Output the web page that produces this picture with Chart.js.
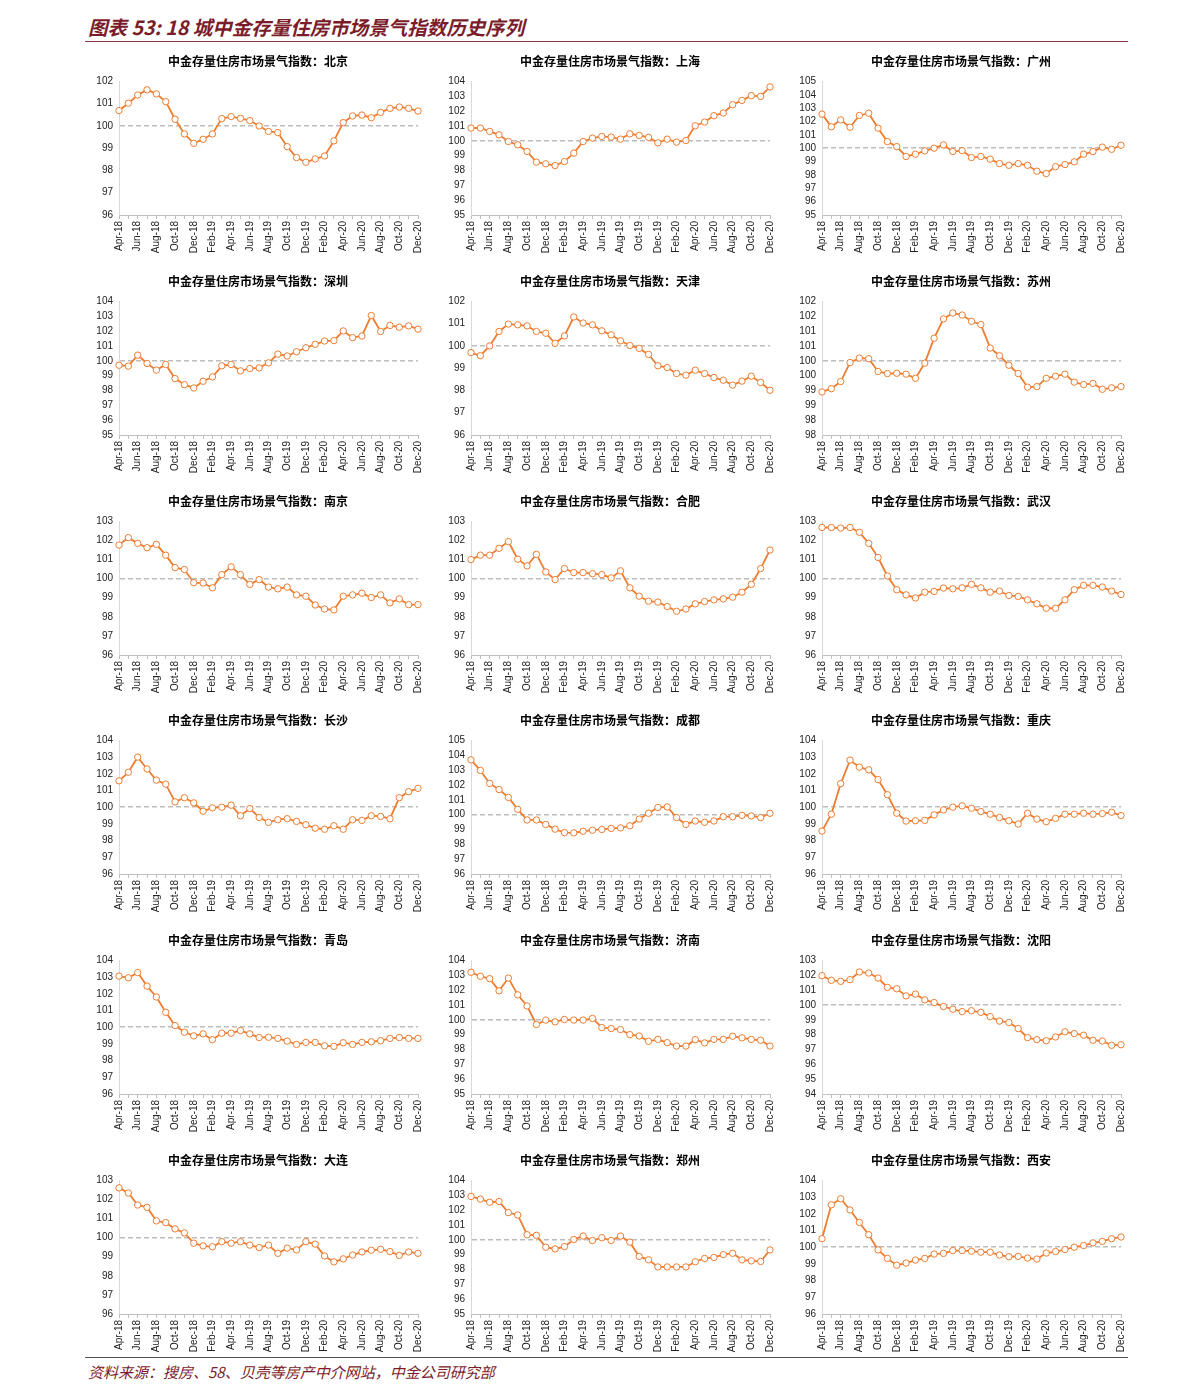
<!DOCTYPE html>
<html>
<head>
<meta charset="utf-8">
<script src="https://cdn.jsdelivr.net/npm/chart.js@4.4.1/dist/chart.umd.min.js"></script>
<style>
  html, body { margin: 0; padding: 0; background: #ffffff; }
  body { width: 1191px; height: 1399px; position: relative; overflow: hidden; }
  #title { position: absolute; left: 88px; top: 14px; font-family: "Noto Sans CJK SC", sans-serif; font-style: italic; font-weight: bold; font-size: 19.5px; color: #7b1c2a; white-space: nowrap; line-height: 26px; }
  #hline { position: absolute; left: 85px; top: 41px; width: 1043px; height: 0; border-top: 1.5px solid #8a3a44; }
  #fline { position: absolute; left: 85px; top: 1357px; width: 1043px; height: 0; border-top: 1px solid #555; }
  #source { position: absolute; left: 88px; top: 1361px; font-family: "Noto Sans CJK SC", sans-serif; font-style: italic; font-size: 15px; color: #7b1c2a; white-space: nowrap; line-height: 22px; }
  canvas.panel { position: absolute; }
</style>
</head>
<body>
<div id="title">图表 53: 18 城中金存量住房市场景气指数历史序列</div>
<div id="hline"></div>
<div id="fline"></div>
<div id="source">资料来源：搜房、58、贝壳等房产中介网站，中金公司研究部</div>
<script>
// ---------------- DATA ----------------
const months = ["Apr-18","May-18","Jun-18","Jul-18","Aug-18","Sep-18","Oct-18","Nov-18","Dec-18",
  "Jan-19","Feb-19","Mar-19","Apr-19","May-19","Jun-19","Jul-19","Aug-19","Sep-19","Oct-19","Nov-19","Dec-19",
  "Jan-20","Feb-20","Mar-20","Apr-20","May-20","Jun-20","Jul-20","Aug-20","Sep-20","Oct-20","Nov-20","Dec-20"];

const cities = ["北京","上海","广州","深圳","天津","苏州","南京","合肥","武汉","长沙","成都","重庆","青岛","济南","沈阳","大连","郑州","西安"];
const titlePrefix = "中金存量住房市场景气指数：";

const yMin  = [96, 95, 95, 95, 96, 97.5, 96, 96, 96, 96, 96, 96, 96, 95, 94, 96, 95, 96];
const yMax  = [102, 104, 105, 104, 102, 102, 103, 103, 103, 104, 105, 104, 104, 104, 103, 103, 104, 104];
const yStep = [1, 1, 1, 1, 1, 0.5, 1, 1, 1, 1, 1, 1, 1, 1, 1, 1, 1, 1];
const baseline = 100;

const beijing   = [100.69,101.02,101.39,101.62,101.44,101.09,100.30,99.64,99.22,99.40,99.64,100.33,100.42,100.34,100.24,100.00,99.75,99.70,99.07,98.58,98.37,98.52,98.65,99.33,100.15,100.45,100.49,100.37,100.61,100.79,100.85,100.79,100.67];
const shanghai  = [100.86,100.86,100.63,100.40,99.95,99.73,99.28,98.56,98.45,98.33,98.60,99.17,99.95,100.18,100.29,100.25,100.11,100.47,100.36,100.23,99.86,100.11,99.91,100.02,101.01,101.26,101.69,101.87,102.43,102.72,103.04,102.99,103.63];
const guangzhou = [102.55,101.60,102.12,101.57,102.45,102.62,101.50,100.50,100.12,99.38,99.55,99.80,100.00,100.25,99.75,99.82,99.30,99.38,99.18,98.85,98.72,98.85,98.72,98.28,98.10,98.62,98.78,98.98,99.55,99.75,100.08,99.92,100.22];
const shenzhen  = [99.70,99.64,100.38,99.82,99.37,99.75,98.80,98.39,98.17,98.62,98.91,99.66,99.75,99.32,99.48,99.52,99.86,100.45,100.32,100.61,100.88,101.11,101.33,101.36,102.01,101.56,101.67,103.05,101.97,102.38,102.26,102.35,102.13];
const tianjin   = [99.70,99.56,100.00,100.65,100.98,100.95,100.90,100.65,100.57,100.12,100.45,101.30,101.03,100.95,100.68,100.50,100.23,100.02,99.89,99.62,99.11,99.03,98.76,98.69,98.91,98.76,98.58,98.46,98.24,98.42,98.64,98.36,98.01];
const suzhou    = [98.95,99.06,99.30,99.94,100.09,100.07,99.64,99.57,99.58,99.55,99.41,99.92,100.76,101.41,101.61,101.54,101.33,101.22,100.43,100.17,99.85,99.57,99.11,99.13,99.41,99.48,99.55,99.28,99.20,99.24,99.04,99.09,99.13];
const nanjing   = [101.76,102.15,101.85,101.62,101.80,101.23,100.58,100.48,99.79,99.77,99.52,100.21,100.62,100.21,99.70,99.95,99.56,99.47,99.56,99.15,99.08,98.62,98.41,98.36,99.08,99.15,99.24,99.01,99.15,98.73,98.94,98.64,98.64];
const hefei     = [101.00,101.23,101.23,101.59,101.94,101.02,100.67,101.27,100.35,99.95,100.53,100.32,100.32,100.26,100.21,100.04,100.41,99.52,99.08,98.82,98.77,98.54,98.29,98.41,98.68,98.80,98.89,98.94,99.03,99.29,99.70,100.53,101.50];
const wuhan     = [102.68,102.68,102.65,102.68,102.43,101.85,101.11,100.14,99.42,99.15,98.99,99.29,99.33,99.51,99.47,99.52,99.70,99.52,99.29,99.35,99.12,99.07,98.89,98.68,98.45,98.45,98.89,99.42,99.65,99.65,99.56,99.35,99.17];
const changsha  = [101.58,102.09,103.00,102.29,101.62,101.38,100.32,100.57,100.26,99.76,99.96,100.00,100.12,99.49,99.92,99.39,99.09,99.25,99.31,99.15,98.95,98.74,98.68,98.89,98.68,99.25,99.21,99.49,99.45,99.31,100.57,100.93,101.13];
const chengdu   = [103.69,102.98,102.10,101.69,101.16,100.36,99.64,99.64,99.34,99.02,98.79,98.77,98.88,98.95,99.00,99.07,99.11,99.25,99.70,100.09,100.48,100.52,99.80,99.34,99.57,99.48,99.57,99.86,99.86,99.95,99.91,99.80,100.09];
const chongqing = [98.57,99.58,101.41,102.82,102.40,102.24,101.65,100.75,99.64,99.17,99.19,99.21,99.54,99.84,100.00,100.08,99.94,99.74,99.58,99.38,99.19,98.99,99.64,99.29,99.13,99.33,99.58,99.58,99.64,99.58,99.62,99.70,99.50];
const qingdao   = [103.06,102.96,103.27,102.46,101.81,100.89,100.10,99.70,99.48,99.60,99.25,99.64,99.64,99.80,99.60,99.38,99.40,99.33,99.17,98.97,99.09,99.09,98.89,98.85,99.07,98.97,99.09,99.13,99.19,99.33,99.38,99.33,99.33];
const jinan     = [103.20,102.93,102.77,101.95,102.81,101.68,100.93,99.68,99.98,99.86,100.02,99.98,99.98,100.09,99.48,99.41,99.34,99.00,98.91,98.55,98.68,98.46,98.23,98.23,98.66,98.44,98.68,98.68,98.89,98.78,98.68,98.62,98.23];
const shenyang  = [101.97,101.66,101.59,101.70,102.22,102.15,101.81,101.18,101.09,100.61,100.73,100.34,100.16,99.89,99.71,99.55,99.61,99.50,99.21,98.91,98.82,98.41,97.80,97.66,97.59,97.84,98.19,98.07,97.96,97.62,97.57,97.28,97.32];
const dalian    = [102.61,102.34,101.71,101.59,100.88,100.79,100.46,100.25,99.71,99.57,99.52,99.79,99.71,99.79,99.61,99.48,99.61,99.18,99.45,99.36,99.79,99.66,99.04,98.73,98.89,99.09,99.25,99.34,99.39,99.27,99.07,99.25,99.18];
const zhengzhou = [102.92,102.74,102.53,102.58,101.83,101.67,100.34,100.30,99.50,99.38,99.54,100.02,100.25,99.95,100.14,99.95,100.25,99.84,98.88,98.65,98.17,98.17,98.17,98.17,98.52,98.74,98.81,99.00,99.09,98.65,98.58,98.54,99.32];
const xian      = [100.51,102.54,102.90,102.23,101.48,100.75,99.84,99.33,98.92,99.05,99.23,99.33,99.59,99.63,99.80,99.80,99.76,99.70,99.70,99.53,99.43,99.45,99.35,99.29,99.65,99.74,99.86,100.00,100.10,100.26,100.35,100.51,100.61];

const series = [beijing, shanghai, guangzhou, shenzhen, tianjin, suzhou, nanjing, hefei, wuhan,
                changsha, chengdu, chongqing, qingdao, jinan, shenyang, dalian, zhengzhou, xian];

// ---------------- LAYOUT ----------------
const colLeft = [85, 437, 788];
const rowTop0 = 48, rowGap = 219.8;
const canvasW = 347, canvasH = 209;
const padLeft = 12, yAxisW = 22, xAxisH = 42, padRight = 13;
const ORANGE = '#ED7D31';
const tickFont = { family: "'Liberation Sans', Arial, sans-serif", size: 10 };

cities.forEach((city, i) => {
  const r = Math.floor(i / 3), c = i % 3;
  const cv = document.createElement('canvas');
  cv.className = 'panel';
  cv.width = canvasW; cv.height = canvasH;
  cv.style.left = colLeft[c] + 'px';
  cv.style.top = Math.round(rowTop0 + r * rowGap) + 'px';
  cv.style.width = canvasW + 'px'; cv.style.height = canvasH + 'px';
  document.body.appendChild(cv);

  new Chart(cv.getContext('2d'), {
    type: 'line',
    data: {
      labels: months,
      datasets: [{
        data: series[i],
        borderColor: ORANGE,
        borderWidth: 1.8,
        pointRadius: 3.2,
        pointBorderWidth: 1,
        pointBackgroundColor: '#ffffff',
        pointBorderColor: ORANGE,
        tension: 0,
        fill: false
      }]
    },
    options: {
      responsive: false,
      animation: false,
      devicePixelRatio: 1,
      layout: { padding: { left: padLeft, right: padRight, top: 0, bottom: 0 } },
      plugins: {
        legend: { display: false },
        tooltip: { enabled: false },
        title: {
          display: true,
          text: titlePrefix + city,
          color: '#000000',
          font: { family: "'Noto Sans CJK SC', sans-serif", size: 12, weight: 'bold' },
          padding: { top: 6, bottom: 13 }
        }
      },
      scales: {
        x: {
          type: 'category',
          offset: false,
          afterFit: (axis) => { axis.height = xAxisH; },
          grid: {
            display: true,
            drawOnChartArea: false,
            drawTicks: true,
            tickLength: 4,
            tickColor: '#bfbfbf',
            color: '#bfbfbf'
          },
          border: { display: true, color: '#bfbfbf', width: 1 },
          ticks: {
            autoSkip: false,
            minRotation: 90,
            maxRotation: 90,
            padding: 2,
            color: '#222222',
            font: tickFont,
            callback: (val, idx) => (idx % 2 === 0 ? months[idx] : '')
          }
        },
        y: {
          min: yMin[i],
          max: yMax[i],
          afterFit: (axis) => { axis.width = yAxisW; },
          grid: {
            drawTicks: false,
            lineWidth: 1.5,
            color: (ctx) => (ctx.tick && ctx.tick.value === baseline ? '#bdbdbd' : 'rgba(0,0,0,0)')
          },
          border: {
            display: true,
            color: '#d9d9d9',
            width: 1,
            dash: (ctx) => (ctx.tick && ctx.tick.value === baseline ? [5, 3] : [])
          },
          ticks: {
            autoSkip: false,
            stepSize: yStep[i],
            padding: 6,
            color: '#222222',
            font: tickFont,
            callback: (v) => Math.round(v)
          }
        }
      }
    }
  });
});
</script>
</body>
</html>
